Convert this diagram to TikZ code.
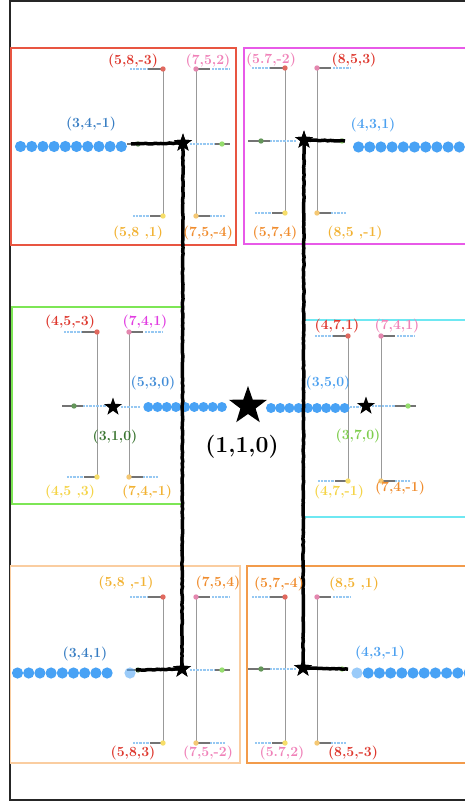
\documentclass[tikz,border=0pt]{standalone}
\usetikzlibrary{shapes.geometric,decorations.pathmorphing}
\definecolor{cred}{RGB}{222,55,45}
\definecolor{cpink}{RGB}{240,130,185}
\definecolor{corange}{RGB}{240,140,45}
\definecolor{cgold}{RGB}{242,178,50}
\definecolor{cyel}{RGB}{245,212,70}
\definecolor{cblueD}{RGB}{55,125,195}
\definecolor{cblueM}{RGB}{65,140,215}
\definecolor{cblueL}{RGB}{75,160,240}
\definecolor{cmag}{RGB}{225,60,225}
\definecolor{cgreenD}{RGB}{55,115,45}
\definecolor{cgreenL}{RGB}{125,205,75}
\definecolor{dotblue}{RGB}{72,162,245}
\definecolor{segblue}{RGB}{150,200,242}
\definecolor{dsalmon}{RGB}{225,105,95}
\definecolor{dyellow}{RGB}{247,222,105}
\definecolor{dpink}{RGB}{228,135,175}
\definecolor{dlorange}{RGB}{245,200,115}
\definecolor{dgreenL}{RGB}{150,222,110}
\definecolor{dgreenD}{RGB}{100,150,90}
\definecolor{bxred}{RGB}{232,85,65}
\definecolor{bxmag}{RGB}{232,90,232}
\definecolor{bxgreen}{RGB}{125,230,85}
\definecolor{bxcyan}{RGB}{110,232,242}
\definecolor{bxlor}{RGB}{250,205,160}
\definecolor{bxor}{RGB}{242,155,75}
\tikzset{
  lab/.style={font=\fontsize{14}{16}\selectfont\bfseries, inner sep=0pt},
  biglab/.style={font=\fontsize{23}{26}\selectfont\bfseries, inner sep=0pt},
  vline/.style={draw=black!40, line width=1pt},
  gseg/.style={draw=black!55, line width=1.2pt},
  bseg/.style={draw=segblue, line width=1.4pt, dash pattern=on 1pt off 0.4pt},
  smallstar/.style={star, star points=5, star point ratio=2.5, fill=black, inner sep=0pt, minimum size=19pt},
  bigstar/.style={star, star points=5, star point ratio=2.5, fill=black, inner sep=0pt, minimum size=40pt},
  thickcon/.style={draw=black, line width=3.5pt, decorate, decoration={random steps, segment length=3pt, amplitude=0.35pt}},
  boxline/.style={line width=1.2pt}
}
\newcommand\unitpair[4]{%
  \draw[vline] (#1,#3) -- (#1,#4);
  \draw[vline] (#2,#3) -- (#2,#4);
  \draw[bseg] (#1-33,#3) -- (#1-15,#3);
  \draw[gseg] (#1-15,#3) -- (#1,#3);
  \draw[bseg] (#1-30,#4) -- (#1-13,#4);
  \draw[gseg] (#1-13,#4) -- (#1,#4);
  \draw[gseg] (#2,#3) -- (#2+14,#3);
  \draw[bseg] (#2+16,#3) -- (#2+34,#3);
  \draw[gseg] (#2,#4) -- (#2+14,#4);
  \draw[bseg] (#2+14,#4) -- (#2+29,#4);
  \fill[dsalmon] (#1,#3) circle (2.7pt);
  \fill[dyellow] (#1,#4) circle (2.7pt);
  \fill[dpink] (#2,#3) circle (2.7pt);
  \fill[dlorange] (#2,#4) circle (2.7pt);
}
\begin{document}
\begin{tikzpicture}[x=1pt,y=-1pt]
\useasboundingbox (0,0) rectangle (465,805);
\clip (0,0) rectangle (465,805);
\fill[white] (0,0) rectangle (465,805);
% outer frame
\draw[line width=1.5pt, black!85] (10,0.8) rectangle (490,800);
% boxes
\draw[boxline, bxred] (11,48) rectangle (236,245);
\draw[boxline, bxmag] (244,48) rectangle (490,244);
\draw[boxline, bxgreen] (12,307) rectangle (182,504);
\draw[boxline, bxcyan] (304,320) rectangle (490,517);
\draw[boxline, bxlor] (10.5,566) rectangle (240,763);
\draw[boxline, bxor] (247,566) rectangle (490,763);

% vertical pairs
\unitpair{163}{196}{69}{216}
\unitpair{285}{317}{68}{213}
\unitpair{97}{129}{332}{477}
\unitpair{348}{381}{336}{481}
\unitpair{163}{196}{597}{743}
\unitpair{285}{317}{597}{743}

% middle rows: top-left
\draw[gseg] (127,144) -- (183,144);
\fill[dgreenD] (138,144) circle (2.7pt);
\draw[bseg] (190,144) -- (215,144);
\draw[gseg] (215,144) -- (230,144);
\fill[dgreenL] (222,144) circle (2.7pt);
% top-right
\draw[gseg] (248,141) -- (270,141);
\fill[dgreenD] (261,141) circle (2.7pt);
\draw[bseg] (270,141) -- (296,141);
\draw[gseg] (310,141) -- (345,141);
\fill[dgreenL] (342,141) circle (2.7pt);
% bottom-left
\draw[gseg] (127,670) -- (183,670);
\fill[dgreenD] (138,670) circle (2.7pt);
\draw[bseg] (190,670) -- (215,670);
\draw[gseg] (215,670) -- (230,670);
\fill[dgreenL] (222,670) circle (2.7pt);
% bottom-right
\draw[gseg] (248,669) -- (270,669);
\fill[dgreenD] (261,669) circle (2.7pt);
\draw[bseg] (270,669) -- (296,669);
\draw[gseg] (310,669) -- (345,669);
\fill[dgreenL] (342,669) circle (2.7pt);
% middle-left
\draw[gseg] (62,406) -- (83,406);
\fill[dgreenD] (74,406) circle (2.7pt);
\draw[bseg] (83,406) -- (107,406);
\draw[bseg] (121,407) -- (140,407);
% middle-right
\draw[bseg] (350,407) -- (360,407);
\draw[bseg] (372,406) -- (395,406);
\draw[gseg] (395,406) -- (416,406);
\fill[dgreenL] (408,406) circle (2.7pt);

% blue dot chains
\foreach \i in {0,...,9} \fill[dotblue] (20.5+11.2*\i,146.5) circle (5.6pt);
\foreach \i in {0,...,10} \fill[dotblue] (358.5+11.2*\i,147) circle (5.6pt);
\foreach \i in {0,...,8} \fill[dotblue] (17.5+11.2*\i,673) circle (5.6pt);
\fill[dotblue, opacity=0.55] (130,673) circle (5.6pt);
\fill[dotblue, opacity=0.55] (357,673) circle (5.6pt);
\foreach \i in {1,...,10} \fill[dotblue] (357+11.2*\i,673) circle (5.6pt);
\foreach \i in {0,...,8} \fill[dotblue] (148.3+9.2*\i,407) circle (5pt);
\foreach \i in {0,...,8} \fill[dotblue] (271+9.2*\i,408) circle (5pt);

% stars
\node[smallstar] (sTL) at (183,143) {};
\node[smallstar] (sTR) at (304,140) {};
\node[smallstar] (sBL) at (182,669) {};
\node[smallstar] (sBR) at (303,668) {};
\node[smallstar] (sML) at (113,407) {};
\node[smallstar] (sMR) at (366,406) {};
\node[bigstar] (sC) at (248,406) {};

% thick connectors
\coordinate (eTL) at (131,144);
\coordinate (eBL) at (136,670);
\coordinate (eTR) at (345,141);
\coordinate (eBR) at (348,669);
\draw[thickcon] (eTL) -- (sTL.center);
\draw[thickcon] (sTL.center) -- (sBL.center);
\draw[thickcon] (eBL) -- (sBL.center);
\draw[thickcon] (sTR.center) -- (eTR);
\draw[thickcon] (sTR.center) -- (sBR.center);
\draw[thickcon] (sBR.center) -- (eBR);
\node[smallstar] at (sTL.center) {};
\node[smallstar] at (sTR.center) {};
\node[smallstar] at (sBL.center) {};
\node[smallstar] at (sBR.center) {};

% labels top-left
\node[lab, text=cred] (l1) at (133,61) {(5,8,-3)};
\node[lab, text=cpink] (l2) at (208,61) {(7,5,2)};
\node[lab, text=cgold] (l3) at (138,233) {(5,8 ,1)};
\node[lab, text=corange] (l4) at (208,233) {(7,5,-4)};
\node[lab, text=cblueD] (l5) at (91,124) {(3,4,-1)};
% top-right
\node[lab, text=cpink] (l6) at (271,60) {(5.7,-2)};
\node[lab, text=cred] (l7) at (354,60) {(8,5,3)};
\node[lab, text=corange] (l8) at (275,233) {(5,7,4)};
\node[lab, text=cgold] (l9) at (355,233) {(8,5 ,-1)};
\node[lab, text=cblueL] (l10) at (373,125) {(4,3,1)};
% middle-left
\node[lab, text=cred] (l11) at (70,322) {(4,5,-3)};
\node[lab, text=cmag] (l12) at (145,322) {(7,4,1)};
\node[lab, text=cblueM] (l13) at (153,383) {(5,3,0)};
\node[lab, text=cgreenD] (l14) at (115,437) {(3,1,0)};
\node[lab, text=cyel] (l15) at (70,492) {(4,5 ,3)};
\node[lab, text=cgold] (l16) at (147,492) {(7,4,-1)};
% middle-right
\node[lab, text=cred] (l17) at (337,326) {(4,7,1)};
\node[lab, text=cpink] (l18) at (397,326) {(7,4,1)};
\node[lab, text=cblueL] (l19) at (328,383) {(3,5,0)};
\node[lab, text=cgreenL] (l20) at (358,436) {(3,7,0)};
\node[lab, text=cyel] (l21) at (339,492) {(4,7,-1)};
\node[lab, text=corange] (l22) at (400,488) {(7,4,-1)};
% center
\node[biglab] (lC) at (242,447) {(1,1,0)};
% bottom-left
\node[lab, text=cgold] (l23) at (126,583) {(5,8 ,-1)};
\node[lab, text=corange] (l24) at (218,583) {(7,5,4)};
\node[lab, text=cblueD] (l25) at (85,654) {(3,4,1)};
\node[lab, text=cred] (l26) at (133,753) {(5,8,3)};
\node[lab, text=cpink] (l27) at (208,753) {(7,5,-2)};
% bottom-right
\node[lab, text=corange] (l28) at (279,584) {(5,7,-4)};
\node[lab, text=cgold] (l29) at (354,584) {(8,5 ,1)};
\node[lab, text=cblueL] (l30) at (380,653) {(4,3,-1)};
\node[lab, text=cpink] (l31) at (282,753) {(5.7,2)};
\node[lab, text=cred] (l32) at (353,753) {(8,5,-3)};
\end{tikzpicture}
\end{document}
